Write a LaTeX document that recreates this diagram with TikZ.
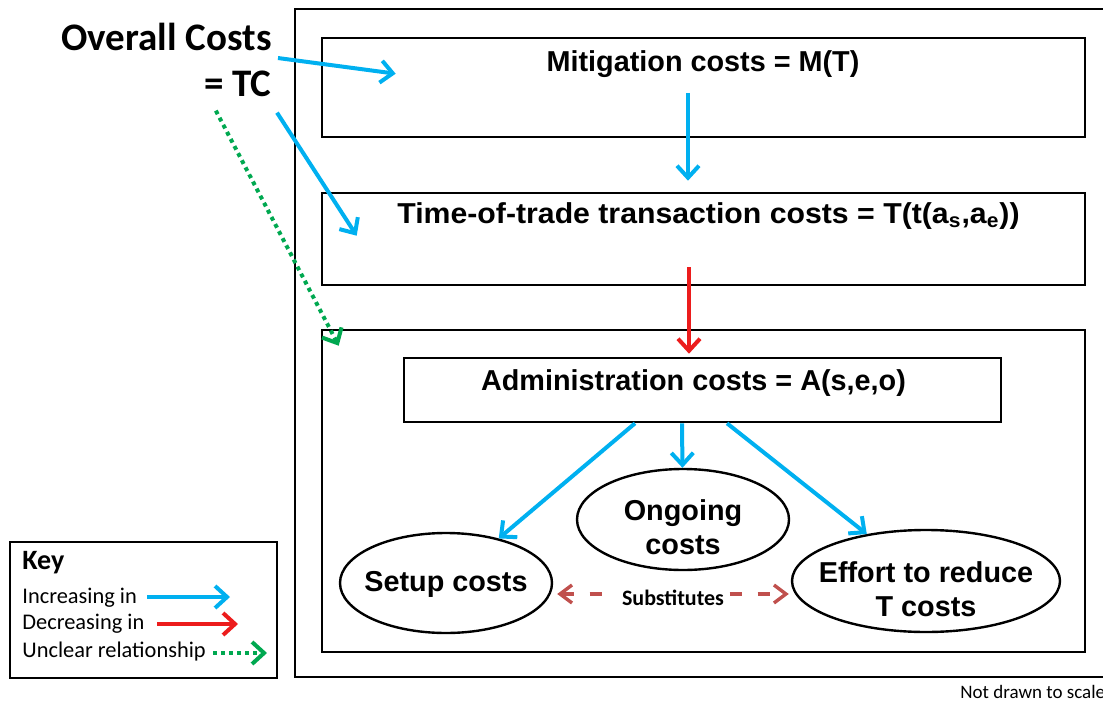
\documentclass[tikz,border=0pt]{standalone}
\usepackage{fontspec}
\setmainfont{Liberation Sans}
\newfontfamily\calibri{Carlito}
\usepackage{xcolor}
\usetikzlibrary{arrows.meta, positioning, calc, shapes.geometric}
\definecolor{incr}{RGB}{0, 176, 240}
\definecolor{decr}{RGB}{236, 28, 28}
\definecolor{unclear}{RGB}{0, 168, 80}
\definecolor{subst}{RGB}{192, 80, 77}
\tikzset{
  costbox/.style={draw, line width=1.3pt, inner sep=0pt},
  costtext/.style={inner sep=0pt, font=\bfseries\fontsize{14.4}{17}\selectfont},
  costoval/.style={draw, ellipse, line width=1.2pt, inner sep=0pt},
  ovaltext/.style={inner sep=0pt, align=center, font=\bfseries\fontsize{14.4}{17}\selectfont},
  titletext/.style={inner sep=0pt, font=\calibri\bfseries\fontsize{19.5}{23}\selectfont},
  keytitle/.style={inner sep=0pt, font=\calibri\bfseries\fontsize{14}{16}\selectfont},
  keytext/.style={inner sep=0pt, font=\calibri\fontsize{11.2}{13}\selectfont},
  notetext/.style={inner sep=0pt, font=\calibri\fontsize{9.5}{11}\selectfont},
  subtext/.style={fill=white, text=black, inner sep=2.5pt, yshift=-2pt,
                  font=\calibri\bfseries\fontsize{11}{13}\selectfont},
  incarrow/.style={incr, line width=2pt, -{Straight Barb[length=6pt, width=11pt]}},
  decarrow/.style={decr, line width=2pt, -{Straight Barb[length=6pt, width=11pt]}},
  unclarrow/.style={unclear, line width=2pt, dash pattern=on 2pt off 2pt,
                    -{Straight Barb[length=6pt, width=11pt]}},
  subarrow/.style={subst, line width=1.7pt, dash pattern=on 6pt off 8pt,
                   {Straight Barb[length=6pt, width=9pt]}-{Straight Barb[length=6pt, width=9pt]}},
}

\begin{document}
\begin{tikzpicture}[x=0.5pt, y=-0.5pt]
  \useasboundingbox (0,0) rectangle (1103,701);

  % ── Outer frame ──
  \draw[line width=1.4pt] (1103,9) -- (295,9) -- (295,677) -- (1103,677);
  \node[notetext, anchor=base west] (scale) at (960,698) {Not drawn to scale};

  % ── Overall costs ──
  \node[titletext, anchor=base east] (overall) at (272,51) {Overall Costs};
  \node[titletext, anchor=base east] (tc) at (272,97) {= TC};

  % ── Mitigation ──
  \node[costbox, minimum width=381.5pt, minimum height=49.5pt] (mitbox) at (703.5,87.5) {};
  \node[costtext, anchor=base] (mit) at (703,72) {Mitigation costs = M(T)};

  % ── Time-of-trade ──
  \node[costbox, minimum width=381.5pt, minimum height=46pt] (timebox) at (703.5,239) {};
  \node[costtext, anchor=base] (time) at (708.5,223)
    {\scalebox{1.05}[1]{Time-of-trade transaction costs = T(t(a\textsubscript{s},a\textsubscript{e}))}};

  % ── Administration ──
  \node[costbox, minimum width=381.5pt, minimum height=161pt] (adminframe) at (703.5,491) {};
  \node[costbox, minimum width=298.5pt, minimum height=32pt] (adminbox) at (702.5,390) {};
  \node[costtext, anchor=base] (admin) at (693.5,390) {Administration costs = A(s,e,o)};

  \node[costoval, minimum width=106pt, minimum height=50pt] (setup) at (446,583) {};
  \node[ovaltext] (setuptxt) at (446,584.5) {Setup costs};
  \node[costoval, minimum width=106pt, minimum height=50.5pt] (ongoing) at (683,519.5) {};
  \node[ovaltext] (ongoingtxt) at (683,527) {Ongoing\\costs};
  \node[costoval, minimum width=134pt, minimum height=51pt] (effort) at (926,581) {};
  \node[ovaltext] (efforttxt) at (926,589.5) {Effort to reduce\\T costs};

  % ── Arrows from TC ──
  \coordinate (mittip) at ($(mitbox.north west)+(75,37)$);
  \coordinate (timetip) at ($(timebox.north west)+(36,44)$);
  \coordinate (admintip) at ($(adminframe.north west)+(18,17)$);
  \draw[incarrow] ([shift={(6,-13)}]tc.north east) -- (mittip);
  \draw[incarrow] ([shift={(5,15)}]tc.south east) -- (timetip);
  \draw[unclarrow] ([shift={(12,13)}]tc.south west) -- (admintip);

  % ── Arrows down the chain ──
  \coordinate (mittail) at (688,93);
  \draw[incarrow, shorten >=5.5pt] (mittail) -- (mittail |- timebox.north);
  \coordinate (timetail) at (689,267);
  \draw[decarrow, shorten >=1.5pt] (timetail) -- (timetail |- adminbox.north);

  \draw[incarrow] ([shift={(-67.5,0)}]adminbox.south) -- (setup);
  \draw[incarrow] ([shift={(-20.5,0)}]adminbox.south) -- (ongoing);
  \draw[incarrow] ([shift={(24.5,0)}]adminbox.south) -- (effort);

  \draw[subarrow] ([shift={(4,11)}]setup.east) -- node[subtext] (subs) {Substitutes}
    ([shift={(-2,13)}]effort.west);

  % ── Key ──
  \node[costbox, minimum width=133.5pt, minimum height=68pt] (key) at (143.5,610) {};
  \node[keytitle, anchor=base west] (keyhead) at (22,569) {Key};
  \node[keytext, anchor=base west] (inckey) at (22,603) {Increasing in};
  \node[keytext, anchor=base west] (deckey) at (22,629) {Decreasing in};
  \node[keytext, anchor=base west] (unckey) at (22,657) {Unclear relationship};
  \coordinate (incstart) at (147,597);
  \coordinate (incend) at (230,597);
  \coordinate (decstart) at (157,624);
  \coordinate (decend) at (238,624);
  \coordinate (uncstart) at (213,653);
  \coordinate (uncend) at (267,653);
  \draw[incarrow] (incstart) -- (incend);
  \draw[decarrow] (decstart) -- (decend);
  \draw[unclarrow] (uncstart) -- (uncend);
\end{tikzpicture}
\end{document}
